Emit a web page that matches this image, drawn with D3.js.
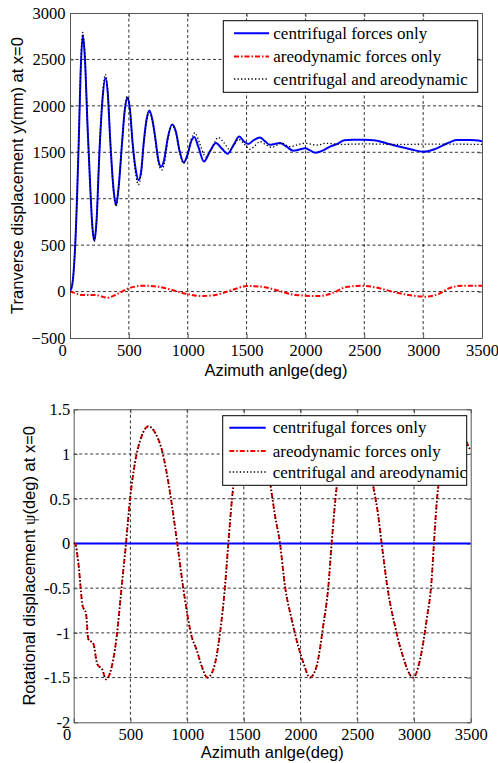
<!DOCTYPE html>
<html lang="en">
<head>
    <meta charset="UTF-8">
    <title>blade displacement</title>
    <style type="text/css">
        body{margin:0;background:#fff;}
        svg{display:block;}
    </style>
    <script src="https://cdn.jsdelivr.net/npm/d3@7"></script>
</head>
<body>
<div id="draw"></div>
<script>
    // azimuth ticks shared by both panels
    var xTicks = [0, 500, 1000, 1500, 2000, 2500, 3000, 3500];
    var dispTicks = [-500, 0, 500, 1000, 1500, 2000, 2500, 3000];
    var rotTicks = [-2, -1.5, -1, -0.5, 0, 0.5, 1, 1.5];
    var legendLabels = ["centrifugal forces only", "areodynamic forces only", "centrifugal and areodynamic"];

    // top panel: transverse displacement (mm)
    var centDeg = [0, 20, 45, 74, 90, 108, 125, 150, 173, 190, 207, 225, 250, 275, 300, 320, 343, 370, 391, 415, 442, 465, 490, 510, 532, 560, 583, 605, 626, 650, 674, 700, 725, 750, 773, 800, 830, 867, 900, 930, 966, 1000, 1030, 1056, 1090, 1138, 1185, 1240, 1290, 1338, 1390, 1438, 1475, 1515, 1560, 1614, 1655, 1699, 1740, 1784, 1840, 1897, 1950, 1997, 2040, 2082, 2150, 2209, 2270, 2330, 2400, 2500, 2580, 2680, 2776, 2900, 3002, 3090, 3172, 3230, 3286, 3400, 3500];
    var centDisp = [0, 80, 520, 1600, 2350, 2760, 2550, 1750, 1100, 700, 550, 750, 1500, 2050, 2300, 2150, 1600, 1100, 930, 1150, 1600, 1950, 2090, 1950, 1600, 1300, 1200, 1300, 1600, 1850, 1950, 1850, 1650, 1420, 1345, 1420, 1650, 1800, 1720, 1520, 1390, 1480, 1620, 1665, 1560, 1400, 1500, 1600, 1540, 1485, 1580, 1670, 1620, 1590, 1630, 1660, 1620, 1580, 1590, 1600, 1560, 1517, 1530, 1543, 1520, 1495, 1520, 1560, 1590, 1630, 1635, 1635, 1630, 1600, 1567, 1530, 1505, 1530, 1578, 1610, 1632, 1632, 1620];

    var aeroDeg = [0, 50, 102, 215, 314, 413, 499, 626, 753, 867, 994, 1122, 1235, 1376, 1504, 1631, 1773, 1914, 2113, 2226, 2339, 2481, 2594, 2736, 2877, 3019, 3132, 3217, 3331, 3500];
    var aeroDisp = [0, -20, -37, -37, -66, -19, 35, 63, 52, 17, -26, -48, -37, 17, 60, 52, 9, -37, -48, -19, 46, 63, 46, 0, -37, -55, -26, 35, 63, 63];

    var combDeg = [0, 20, 45, 74, 90, 108, 125, 150, 173, 190, 207, 225, 250, 275, 300, 320, 343, 370, 391, 415, 442, 465, 485, 510, 532, 560, 580, 605, 626, 650, 674, 700, 725, 750, 779, 805, 830, 864, 900, 930, 963, 1000, 1030, 1062, 1100, 1155, 1210, 1260, 1310, 1359, 1395, 1430, 1480, 1529, 1570, 1614, 1665, 1713, 1755, 1798, 1869, 1930, 1997, 2096, 2181, 2300, 2500, 2800, 3100, 3500];
    var combDisp = [0, 80, 530, 1620, 2380, 2790, 2580, 1760, 1100, 690, 540, 760, 1520, 2080, 2340, 2180, 1600, 1080, 920, 1140, 1600, 1960, 2100, 1960, 1580, 1250, 1150, 1270, 1580, 1830, 1930, 1830, 1630, 1400, 1310, 1400, 1620, 1790, 1710, 1510, 1380, 1480, 1640, 1710, 1600, 1450, 1560, 1660, 1600, 1525, 1580, 1640, 1590, 1532, 1570, 1614, 1580, 1553, 1575, 1597, 1560, 1580, 1597, 1578, 1597, 1585, 1590, 1585, 1588, 1585];

    // bottom panel: rotational displacement (deg)
    var rotCentDeg = [0, 3500];
    var rotCent = [0, 0];
    var rotDeg = [0, 11, 41, 79, 108, 129, 173, 208, 252, 285, 320, 379, 423, 461, 496, 540, 599, 658, 717, 776, 849, 913, 981, 1040, 1084, 1128, 1178, 1231, 1290, 1334, 1363, 1407, 1480, 1580, 1660, 1731, 1775, 1819, 1863, 1922, 1980, 2024, 2083, 2142, 2200, 2245, 2274, 2319, 2390, 2480, 2570, 2641, 2685, 2715, 2773, 2832, 2892, 2994, 3053, 3112, 3156, 3176, 3200, 3229, 3300, 3390, 3479, 3500];
    var rotAero = [0, 0, -0.22, -0.70, -0.78, -1.07, -1.12, -1.35, -1.41, -1.52, -1.45, -1.04, -0.48, 0, 0.49, 0.90, 1.20, 1.31, 1.24, 1.05, 0.57, 0, -0.63, -1.04, -1.19, -1.37, -1.50, -1.41, -1.00, -0.48, 0, 0.64, 1.10, 1.32, 1.12, 0.68, 0.31, 0, -0.48, -0.85, -1.15, -1.33, -1.50, -1.37, -0.92, -0.48, 0, 0.64, 1.10, 1.32, 1.12, 0.64, 0.31, 0, -0.55, -0.92, -1.22, -1.50, -1.30, -0.85, -0.40, 0, 0.45, 0.79, 1.18, 1.30, 1.09, 1.04];
    var rotComb = [0, 0, -0.22, -0.70, -0.78, -1.07, -1.12, -1.35, -1.41, -1.52, -1.45, -1.04, -0.48, 0, 0.49, 0.90, 1.20, 1.31, 1.24, 1.05, 0.57, 0, -0.63, -1.04, -1.19, -1.37, -1.50, -1.41, -1.00, -0.48, 0, 0.64, 1.10, 1.32, 1.12, 0.68, 0.31, 0, -0.48, -0.85, -1.15, -1.33, -1.50, -1.37, -0.92, -0.48, 0, 0.64, 1.10, 1.32, 1.12, 0.64, 0.31, 0, -0.55, -0.92, -1.22, -1.50, -1.30, -0.85, -0.40, 0, 0.45, 0.79, 1.18, 1.30, 1.09, 1.04];

    var w = 498;
    var h = 763;
    var serif = "'Liberation Serif','Times New Roman',serif";
    var sans = "'Liberation Sans',Arial,sans-serif";

    // line styles: solid blue, red dash-dot, black dotted
    var styles = [
        {stroke: "#0000ff", width: 2, dash: null},
        {stroke: "#ff0000", width: 2, dash: "5,2,1.5,2"},
        {stroke: "#000000", width: 1.3, dash: "1.3,2.2"}
    ];

    var svg = d3.select("#draw")
        .append("svg")
        .attr("width", w)
        .attr("height", h);
    svg.append("rect").attr("width", w).attr("height", h).attr("fill", "#fff");

    function zip(xs, ys){
        return xs.map(function(d, i){ return [d, ys[i]]; });
    }

    function panel(p){
        var x = d3.scaleLinear().domain([0, 3500]).range([p.left, p.right]);
        var y = d3.scaleLinear().domain(p.yDomain).range([p.bottom, p.top]);
        var g = svg.append("g");

        g.append("clipPath").attr("id", p.id + "-clip")
            .append("rect")
            .attr("x", p.left).attr("y", p.top)
            .attr("width", p.right - p.left).attr("height", p.bottom - p.top);

        // dashed grid
        var grid = g.append("g")
            .attr("stroke", "#000")
            .attr("stroke-width", 0.8)
            .attr("stroke-dasharray", "3,2.5");
        grid.selectAll("line.vx")
            .data(xTicks.slice(1, -1))
            .enter().append("line")
            .attr("x1", function(d){ return x(d); })
            .attr("x2", function(d){ return x(d); })
            .attr("y1", p.top).attr("y2", p.bottom);
        grid.selectAll("line.hy")
            .data(p.yTicks.slice(1, -1))
            .enter().append("line")
            .attr("x1", p.left).attr("x2", p.right)
            .attr("y1", function(d){ return y(d); })
            .attr("y2", function(d){ return y(d); });

        // axes with inward ticks
        var ax = g.append("g").attr("transform", "translate(0," + p.bottom + ")")
            .call(d3.axisBottom(x).tickValues(xTicks).tickFormat(d3.format("d")).tickSizeInner(-4).tickSizeOuter(0).tickPadding(p.xPad));
        var ay = g.append("g").attr("transform", "translate(" + p.left + ",0)")
            .call(d3.axisLeft(y).tickValues(p.yTicks).tickFormat(p.yFormat).tickSizeInner(-4).tickSizeOuter(0).tickPadding(p.yPad));
        g.append("g").attr("transform", "translate(0," + p.top + ")")
            .call(d3.axisTop(x).tickValues(xTicks).tickFormat("").tickSizeInner(-4).tickSizeOuter(0));
        g.append("g").attr("transform", "translate(" + p.right + ",0)")
            .call(d3.axisRight(y).tickValues(p.yTicks).tickFormat("").tickSizeInner(-4).tickSizeOuter(0));
        g.selectAll(".domain, .tick line").attr("stroke", "#555").attr("stroke-width", 1);
        g.selectAll(".tick text")
            .attr("fill", "#000")
            .attr("font-family", serif)
            .style("font-family", serif)
            .style("font-size", "16.5px");
        ax.selectAll(".tick text").filter(function(d){ return d === 0; }).attr("dx", p.zeroShift);

        // series
        var line = d3.line()
            .x(function(d){ return x(d[0]); })
            .y(function(d){ return y(d[1]); })
            .curve(d3.curveMonotoneX);
        var lines = g.append("g").attr("clip-path", "url(#" + p.id + "-clip)");
        p.series.forEach(function(s, i){
            lines.append("path")
                .attr("d", line(s))
                .attr("fill", "none")
                .attr("stroke", styles[i].stroke)
                .attr("stroke-width", styles[i].width)
                .attr("stroke-dasharray", styles[i].dash)
                .attr("stroke-linejoin", "round");
        });

        // legend
        var lg = g.append("g");
        lg.append("rect")
            .attr("x", p.legend.x).attr("y", p.legend.y)
            .attr("width", p.legend.w).attr("height", p.legend.h)
            .attr("fill", "#fff").attr("stroke", "#000").attr("stroke-width", 1);
        var row = lg.selectAll("g.row")
            .data(legendLabels)
            .enter().append("g")
            .attr("transform", function(d, i){
                return "translate(" + p.legend.x + "," + (p.legend.y + p.legend.rows[i]) + ")";
            });
        row.append("line")
            .attr("x1", p.legend.l1).attr("x2", p.legend.l2)
            .attr("y1", 0).attr("y2", 0)
            .attr("stroke", function(d, i){ return styles[i].stroke; })
            .attr("stroke-width", function(d, i){ return styles[i].width; })
            .attr("stroke-dasharray", function(d, i){ return styles[i].dash; });
        row.append("text")
            .attr("x", p.legend.tx)
            .attr("dy", "0.33em")
            .style("font-family", serif)
            .style("font-size", "17px")
            .text(function(d){ return d; });

        // axis titles
        g.append("text")
            .attr("x", (p.left + p.right) / 2)
            .attr("y", p.xLabelY)
            .attr("text-anchor", "middle")
            .style("font-family", sans)
            .style("font-size", "16.5px")
            .text("Azimuth anlge(deg)");
        var yl = g.append("text")
            .attr("transform", "translate(" + p.yLabelX + "," + ((p.top + p.bottom) / 2) + ") rotate(-90)")
            .attr("text-anchor", "middle")
            .style("font-family", sans)
            .style("font-size", "16.5px");
        p.yLabel.forEach(function(part){
            yl.append("tspan").style("font-family", part[1] ? serif : sans).text(part[0]);
        });
    }

    panel({
        id: "top", left: 70, right: 482, top: 13, bottom: 338,
        yDomain: [-500, 3000], yTicks: dispTicks, yFormat: d3.format("d"),
        xPad: 6, yPad: 4.5, zeroShift: -8,
        series: [zip(centDeg, centDisp), zip(aeroDeg, aeroDisp), zip(combDeg, combDisp)],
        legend: {x: 223.3, y: 20.7, w: 254.4, h: 71.6, rows: [12.6, 35.8, 58.3], l1: 10.7, l2: 45.7, tx: 50},
        xLabelY: 376, yLabelX: 22.5,
        yLabel: [["Tranverse displacement y(mm) at x=0", false]]
    });

    panel({
        id: "bot", left: 73.7, right: 470.7, top: 409.3, bottom: 722.3,
        yDomain: [-2, 1.5], yTicks: rotTicks, yFormat: function(d){ return String(d); },
        xPad: 5.5, yPad: 3.5, zeroShift: -7,
        series: [zip(rotCentDeg, rotCent), zip(rotDeg, rotAero), zip(rotDeg, rotComb)],
        legend: {x: 222.7, y: 415.7, w: 244, h: 69.6, rows: [12, 35.3, 56.3], l1: 6.6, l2: 43, tx: 50},
        xLabelY: 758, yLabelX: 35,
        yLabel: [["Rotational displacement ", false], ["\u03c8", true], ["(deg) at x=0", false]]
    });
</script>
</body>
</html>
